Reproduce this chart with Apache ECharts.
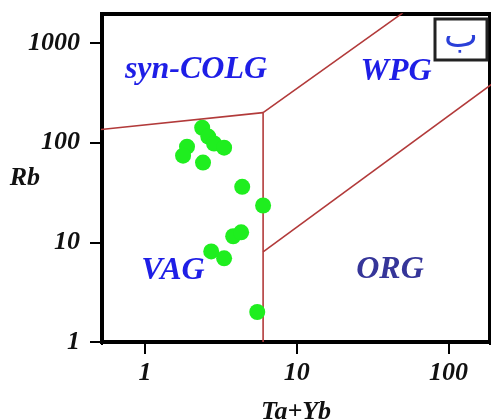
<!DOCTYPE html>
<html><head><meta charset="utf-8">
<script src="https://cdn.jsdelivr.net/npm/echarts@6/dist/echarts.min.js"></script>
<style>html,body{margin:0;padding:0;background:#fff}#c{width:491px;height:419px}</style>
</head><body><div id="c"></div>
<script>
const xTicks = [1, 10, 100];
const yTicks = [1, 10, 100, 1000];
const samples = [
  [2.38, 141], [2.61, 115], [2.85, 98], [3.32, 89], [1.89, 91], [1.78, 74], [2.41, 63],
  [4.37, 36], [6.0, 23.4], [3.81, 11.5], [4.30, 12.6], [2.73, 8.1], [3.32, 6.9], [5.49, 2.0]
];
const colgVagLine = [[0.5, 135], [6, 200]];
const vagOrgLine = [[6, 1], [6, 200]];
const wpgOrgLine = [[6, 8], [200, 400]];
const colgWpgLine = [[6, 200], [50, 2000]];
const regionNames = ['syn-COLG', 'WPG', 'VAG', 'ORG'];
const panelLetter = 'ب';

const FONT = '"Liberation Serif", "Times New Roman", serif';
const chart = echarts.init(document.getElementById('c'));
const lineStyle = {color: '#b23a3a', width: 1.6};
const mkLine = d => ({type: 'line', data: d, symbol: 'none', lineStyle: lineStyle, clip: true, silent: true, z: 2});
const axisText = {fontFamily: 'Liberation Serif', fontWeight: 'bold', fontStyle: 'italic', fontSize: 26, color: '#111'};
const lbl = (t, x, y, col) => ({type: 'text', x: x, y: y, z: 10, style: {text: t, align: 'center', verticalAlign: 'middle', font: 'italic bold 32px ' + FONT, fill: col}});
const cover = (x, y, w, h) => ({type: 'rect', x: x, y: y, z: 100, silent: true, shape: {width: w, height: h}, style: {fill: '#fff'}});
chart.setOption({
  animation: false,
  grid: {left: 102, top: 14, right: 1, bottom: 77, outerBoundsMode: 'none', containLabel: false, show: true, borderColor: '#000', borderWidth: 4, backgroundColor: '#fff'},
  xAxis: {
    type: 'log', min: 0.52, max: 188,
    name: 'Ta+Yb', nameLocation: 'middle', nameGap: 57, nameMoveOverlap: false, nameTextStyle: axisText,
    axisLine: {show: true, lineStyle: {color: '#000', width: 4}},
    axisTick: {show: true, length: 12, lineStyle: {color: '#000', width: 2}},
    axisLabel: Object.assign({margin: 18, customValues: xTicks, formatter: v => String(v)}, axisText),
    splitLine: {show: false}, minorTick: {show: false}
  },
  yAxis: {
    type: 'log', min: 1, max: 1950,
    name: 'Rb', nameLocation: 'middle', nameRotate: 0, nameGap: 62, nameMoveOverlap: false, nameTextStyle: axisText,
    axisLine: {show: true, lineStyle: {color: '#000', width: 4}},
    axisTick: {show: true, length: 12, lineStyle: {color: '#000', width: 2}},
    axisLabel: Object.assign({margin: 22, customValues: yTicks, formatter: v => String(v)}, axisText),
    splitLine: {show: false}, minorTick: {show: false}
  },
  series: [
    mkLine(colgVagLine), mkLine(vagOrgLine), mkLine(wpgOrgLine), mkLine(colgWpgLine),
    {type: 'scatter', data: samples, symbol: 'circle', symbolSize: 16, itemStyle: {color: '#1fee1f', opacity: 1}, z: 3}
  ],
  graphic: [
    lbl(regionNames[0], 196, 70, '#1e1ee6'),
    lbl(regionNames[1], 396, 72, '#1e1ee6'),
    lbl(regionNames[2], 173, 271, '#1e1ee6'),
    lbl(regionNames[3], 390, 270, '#353599'),
    {type: 'rect', x: 435, y: 19, z: 10, shape: {width: 52, height: 41}, style: {fill: '#fff', stroke: '#222', lineWidth: 3}},
    {type: 'text', x: 461, y: 38, z: 11, style: {text: panelLetter, align: 'center', verticalAlign: 'middle', font: '36px "DejaVu Sans", sans-serif', fill: '#2a3fd8'}},
    cover(97, 345, 9, 14),
    cover(485, 345, 6, 14),
    cover(86, 9, 14, 9)
  ]
});
</script></body></html>
